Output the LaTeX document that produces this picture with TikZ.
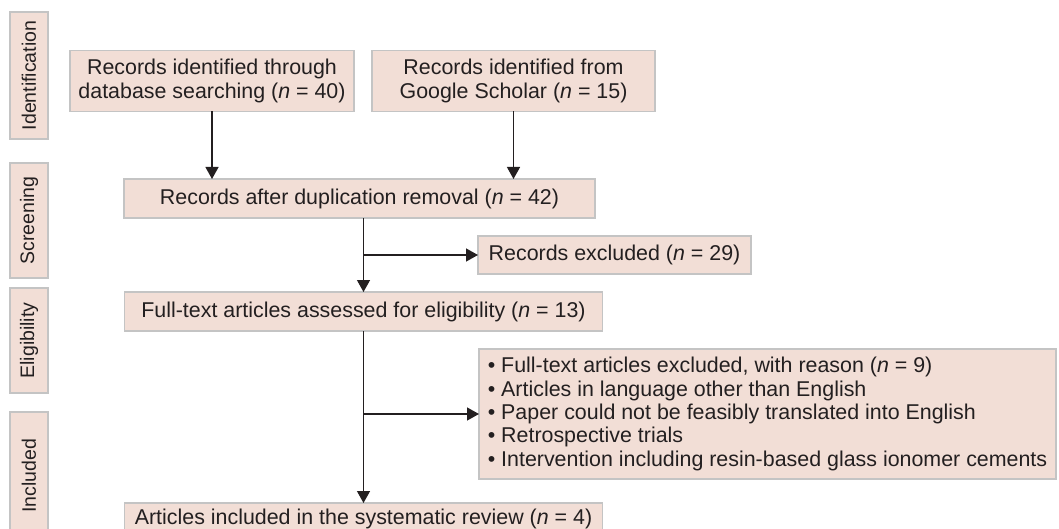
\documentclass[tikz,border=0pt]{standalone}
\usepackage{fontspec}
\setmainfont{Liberation Sans}
\usetikzlibrary{arrows.meta}
\definecolor{cf2ded6}{RGB}{242,222,214}
\definecolor{cc4c4c4}{RGB}{196,196,196}
\definecolor{c231f20}{RGB}{35,31,32}

\begin{document}
\begin{tikzpicture}[y=1pt,x=1pt,yscale=-1, inner sep=0pt, outer sep=0pt,
  box/.style={draw=cc4c4c4,fill=cf2ded6,line width=1.2pt,text=c231f20,
    align=center,font=\fontsize{21.4}{24.5}\selectfont},
  stage/.style={box,rotate=90,minimum height=38pt,
    font=\fontsize{19.5}{22}\selectfont},
  arr/.style={draw=c231f20,line width=1.3pt,-{Triangle[length=12pt,width=13pt]}}]
  \useasboundingbox (0,0) rectangle (1059,529);

  % stages
  \path (29,75.5) node[stage,minimum width=127pt] (stageIdent) {Identification};
  \path (29,220.5) node[stage,minimum width=115pt] (stageScreen) {Screening};
  \path (29,340.5) node[stage,minimum width=105pt] (stageElig) {Eligibility};
  \path (29,476) node[stage,minimum width=128pt] (stageIncl) {Included};

  % boxes
  \path (212,81) node[box,minimum width=284pt,minimum height=61pt] (records40)
    {Records identified through\\database searching (\textit{n} = 40)};
  \path (513.5,81) node[box,minimum width=283pt,minimum height=61pt] (records15)
    {Records identified from\\Google Scholar (\textit{n} = 15)};
  \path (359.5,198.5) node[box,minimum width=471pt,minimum height=39pt] (dup)
    {Records after duplication removal (\textit{n} = 42)};
  \path (614.5,255) node[box,minimum width=273pt,minimum height=38pt] (excl)
    {Records excluded (\textit{n} = 29)};
  \path (363.5,311.5) node[box,minimum width=478pt,minimum height=39pt] (full)
    {Full-text articles assessed for eligibility (\textit{n} = 13)};
  \path (767.5,414) node[box,align=left,minimum width=577pt,
    minimum height=130pt,font=\fontsize{21.4}{23.3}\selectfont] (reasons)
    {\textbullet\ Full-text articles excluded, with reason (\textit{n} = 9)\\
     \textbullet\ Articles in language other than English\\
     \textbullet\ Paper could not be feasibly translated into English\\
     \textbullet\ Retrospective trials\\
     \textbullet\ Intervention including resin-based glass ionomer cements};
  \path (363.5,503) node[box,anchor=north,minimum width=478pt,inner ysep=6pt] (included)
    {Articles included in the systematic review (\textit{n} = 4)};

  % arrows
  \draw[arr] (records40.south) -- (records40.south |- dup.north);
  \draw[arr] (records15.south) -- (records15.south |- dup.north);
  \draw[arr] (dup.south -| full.north) -- (full.north);
  \draw[arr] (excl.west -| full.north) -- (excl.west);
  \draw[arr] (full.south) -- (included.north);
  \draw[arr] (reasons.west -| full.north) -- (reasons.west);

\end{tikzpicture}
\end{document}
